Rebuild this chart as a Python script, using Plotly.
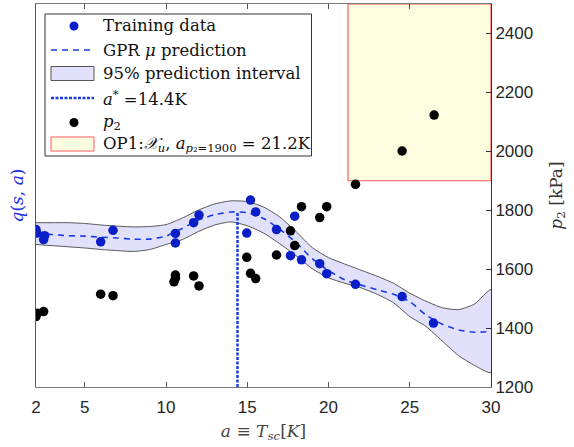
import plotly.graph_objects as go

# ---- GPR training data: sub-cooling a [K] vs normalised value q(s,a) ----
train_a = [2.0, 2.06, 2.47, 2.53, 5.98, 6.74, 10.58, 10.58, 11.70, 12.03, 15.20,
           15.52, 14.97, 16.80, 17.92, 17.66, 18.34, 19.46, 19.89, 21.66, 24.53, 26.46]
train_q = [0.411, 0.402, 0.385, 0.395, 0.379, 0.409, 0.401, 0.376, 0.429, 0.449, 0.488,
           0.457, 0.402, 0.411, 0.446, 0.343, 0.332, 0.322, 0.296, 0.268, 0.236, 0.167]

# ---- GPR posterior mean and 95 % interval on a 1 K grid ----
grid_a = list(range(2, 31))
mu_q = [0.399, 0.398, 0.395, 0.394, 0.391, 0.389, 0.386, 0.386, 0.394, 0.414,
        0.436, 0.450, 0.457, 0.455, 0.440, 0.412, 0.377, 0.335, 0.304, 0.280,
        0.266, 0.254, 0.242, 0.223, 0.188, 0.164, 0.149, 0.143, 0.145]
upper_q = [0.429, 0.429, 0.429, 0.427, 0.423, 0.420, 0.418, 0.419, 0.424, 0.441,
           0.462, 0.478, 0.486, 0.484, 0.470, 0.444, 0.406, 0.364, 0.338, 0.321,
           0.305, 0.289, 0.271, 0.245, 0.224, 0.207, 0.202, 0.217, 0.254]
lower_q = [0.372, 0.369, 0.366, 0.363, 0.359, 0.356, 0.354, 0.359, 0.372, 0.385,
           0.406, 0.423, 0.431, 0.421, 0.402, 0.374, 0.343, 0.309, 0.285, 0.271,
           0.259, 0.242, 0.220, 0.184, 0.158, 0.120, 0.082, 0.056, 0.038]

# ---- optimum of the GPR mean ----
a_star = 14.4
q_star = 0.457

# ---- discharge pressure p2 [kPa] measured at the training points ----
p2_a = [2.0, 2.06, 2.47, 5.98, 6.74, 10.58, 10.58, 10.49, 11.70, 12.03, 14.97,
        15.20, 15.52, 16.80, 17.66, 17.92, 18.34, 19.46, 19.89, 21.66, 24.53, 26.50]
p2_kpa = [1439, 1450, 1456, 1515, 1510, 1580, 1569, 1557, 1577, 1543, 1640,
          1586, 1568, 1648, 1730, 1680, 1812, 1775, 1812, 1888, 2001, 2123]

# ---- operating region OP1 (p2 above the 1900 kPa limit) ----
p2_limit = 1900
a_limit = 21.2

# ---- axes ----
a_range = [2, 30]
a_ticks = [2, 5, 10, 15, 20, 25, 30]
q_range = [0, 1.0]
p_range = [1200, 2500]
p_ticks = [1200, 1400, 1600, 1800, 2000, 2200, 2400]

# ---- styling ----
BLUE = "#0a1ec8"
LINE_BLUE = "#1a3ae6"
BAND_FILL = "#e1e1fb"
BAND_EDGE = "#555555"
BOX_FILL = "#fffde0"
BOX_EDGE = "#ff5a5a"
SERIF = "DejaVu Serif"
SANS = "Liberation Sans"
MEAN_DASH = "6px,5px"
STAR_DASH = "3px,1.5px"

W, H = 574, 447
M_L, M_R, M_T, M_B = 36, 83, 4, 60
PLOT_W = W - M_L - M_R
PLOT_H = H - M_T - M_B


def px(x):
    """Horizontal pixel position -> paper coordinate."""
    return (x - M_L) / PLOT_W


def py(y):
    """Vertical pixel position (from top) -> paper coordinate."""
    return (H - M_B - y) / PLOT_H


fig = go.Figure()

# operating region box on the pressure axis
fig.add_trace(go.Scatter(
    x=[a_limit, a_range[1], a_range[1], a_limit, a_limit],
    y=[p2_limit, p2_limit, p_range[1], p_range[1], p2_limit],
    mode="lines", fill="toself", fillcolor=BOX_FILL,
    line=dict(color=BOX_EDGE, width=1.2), yaxis="y2", hoverinfo="skip"))

# 95 % prediction band as a closed polygon
fig.add_trace(go.Scatter(
    x=grid_a + grid_a[::-1],
    y=upper_q + lower_q[::-1],
    mode="lines", fill="toself", fillcolor=BAND_FILL,
    line=dict(color=BAND_EDGE, width=1, shape="spline", smoothing=0.6)))

# GPR mean
fig.add_trace(go.Scatter(
    x=grid_a, y=mu_q, mode="lines",
    line=dict(color=LINE_BLUE, width=1.6, dash=MEAN_DASH, shape="spline", smoothing=0.6)))

# optimum marker line
fig.add_trace(go.Scatter(
    x=[a_star, a_star], y=[q_range[0], q_star], mode="lines",
    line=dict(color=LINE_BLUE, width=2.5, dash=STAR_DASH)))

# training points
fig.add_trace(go.Scatter(
    x=train_a, y=train_q, mode="markers",
    marker=dict(color=BLUE, size=9.5)))

# discharge pressure
fig.add_trace(go.Scatter(
    x=p2_a, y=p2_kpa, mode="markers", yaxis="y2",
    marker=dict(color="black", size=9.5)))

# ---- legend box (drawn by hand so that area entries get framed swatches) ----
legend_labels = [
    "Training data",
    "GPR <i>μ</i> prediction",
    "95% prediction interval",
    f"<i>a</i><sup>*</sup> ={a_star}K",
    "<i>p</i><sub>2</sub>",
    (f"OP1:<i>𝒳</i><sub><i>u</i></sub>, <i>a</i><sub><i>p</i>₂={p2_limit}</sub>"
     f" = {a_limit}K"),
]
row_y = [26, 50, 73.5, 98, 122.5, 144]
sw_x0, sw_x1, sw_xc, text_x = 51, 94, 74, 101

shapes = [dict(type="rect", xref="paper", yref="paper",
               x0=px(45), x1=px(311.5), y0=py(156), y1=py(14),
               fillcolor="white", line=dict(color="#333333", width=1))]


def dot(yc, color):
    return dict(type="circle", xref="paper", yref="paper",
                xsizemode="pixel", ysizemode="pixel",
                xanchor=px(sw_xc), yanchor=py(yc),
                x0=-4.5, x1=4.5, y0=-4.5, y1=4.5,
                fillcolor=color, line=dict(width=0))


def hline(yc, width, dash):
    return dict(type="line", xref="paper", yref="paper",
                x0=px(sw_x0), x1=px(sw_x1), y0=py(yc), y1=py(yc),
                line=dict(color=LINE_BLUE, width=width, dash=dash))


def box(yc, fill, edge):
    return dict(type="rect", xref="paper", yref="paper",
                x0=px(sw_x0), x1=px(sw_x1), y0=py(yc + 7), y1=py(yc - 7),
                fillcolor=fill, line=dict(color=edge, width=1))


shapes += [
    dot(row_y[0], BLUE),
    hline(row_y[1], 1.6, MEAN_DASH),
    box(row_y[2], BAND_FILL, BAND_EDGE),
    hline(row_y[3], 2.5, STAR_DASH),
    dot(row_y[4], "black"),
    box(row_y[5], BOX_FILL, BOX_EDGE),
]

annotations = [
    dict(text=lab, xref="paper", yref="paper", x=px(text_x), y=py(yc),
         xanchor="left", yanchor="middle", showarrow=False,
         font=dict(family=SERIF, size=16.5, color="#111111"))
    for lab, yc in zip(legend_labels, row_y)
]

fig.update_layout(
    width=W, height=H,
    margin=dict(l=M_L, r=M_R, t=M_T, b=M_B),
    paper_bgcolor="white", plot_bgcolor="white",
    font=dict(family=SANS, size=17, color="#262626"),
    showlegend=False,
    shapes=shapes,
    annotations=annotations,
    xaxis=dict(
        range=a_range, tickvals=a_ticks, ticks="inside", ticklen=5,
        tickcolor="#555555", showline=True, linecolor="#7a7a7a", mirror="ticks",
        showgrid=False, zeroline=False, ticklabelstandoff=5,
        title=dict(text="<i>a</i> ≡ <i>T</i><sub><i>sc</i></sub>[<i>K</i>]",
                   font=dict(family=SERIF, size=17, color="#444444"), standoff=8),
    ),
    yaxis=dict(
        range=q_range, showticklabels=False, ticks="", showline=True,
        linecolor="#3a4fe0", linewidth=1.2, showgrid=False, zeroline=False,
        title=dict(text="<i>q</i>(<i>s</i>, <i>a</i>)",
                   font=dict(family=SERIF, size=17, color="#2030e0"), standoff=6),
    ),
    yaxis2=dict(
        range=p_range, tickvals=p_ticks, overlaying="y", side="right",
        ticks="inside", ticklen=5, tickcolor="#333333", showline=True,
        linecolor="#333333", showgrid=False, zeroline=False,
        title=dict(text="<i>p</i><sub>2</sub> [kPa]",
                   font=dict(family=SERIF, size=17, color="#333333"), standoff=17),
    ),
)

fig.write_html("out.html")
